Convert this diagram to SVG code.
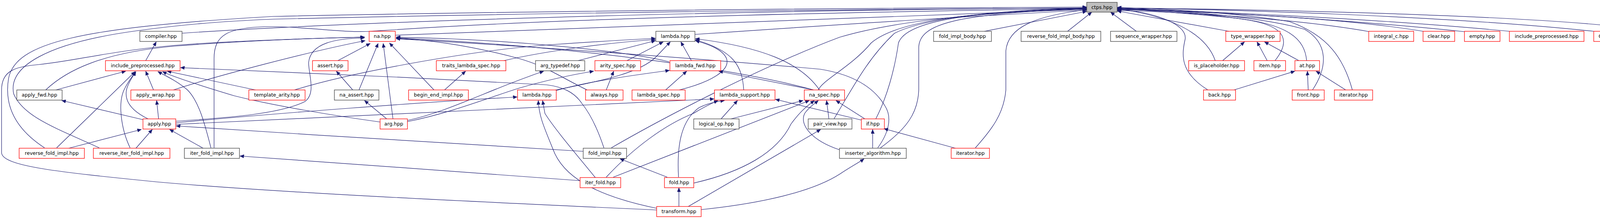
<svg xmlns="http://www.w3.org/2000/svg" width="4218" height="560" viewBox="0 0 4218 560">
<style>
.nb{fill:#fff;stroke:#404040;stroke-width:1.3}
.nr{fill:#fff;stroke:#ff0000;stroke-width:1.3}
.nr2{fill:#bfbfbf;stroke:#404040;stroke-width:1.3}
text{font-family:"DejaVu Sans","Liberation Sans",sans-serif;font-size:12.5px;fill:#000;text-anchor:middle}
.e path{fill:none;stroke:#191970;stroke-width:1.2;marker-end:url(#ah)}
</style>
<defs>
<marker id="ah" markerUnits="userSpaceOnUse" markerWidth="11" markerHeight="9" refX="10.5" refY="4.5" orient="auto">
<path d="M0,0 L10.5,4.5 L0,9 z" fill="#191970" stroke="#191970" stroke-width="0.5"/>
</marker>
</defs>
<rect width="4218" height="560" fill="#fff"/>
<g class="e" id="edges">
<path d="M466,85 C700,68 1500,30 2782,20"/>
<path d="M114,378 C40,330 10,270 22,200 C40,110 200,70 700,42 C1500,25 2400,20 2782,18"/>
<path d="M254,378 C150,330 60,300 35,240 C20,170 120,110 348,79 C450,65 550,55 700,49 C1500,30 2400,22 2782,21"/>
<path d="M548,378 L548,150 C548,90 580,68 700,68 C800,70 880,84 950,80 C1100,70 1500,40 2782,22"/>
<path d="M1012,90 C1300,78 2000,50 2782,24"/>
<path d="M1779,88 C2100,66 2500,40 2782,26"/>
<path d="M2520,80 L2782,29"/>
<path d="M2733,80 L2795,31"/>
<path d="M2909,80 L2843,31"/>
<path d="M3146,80 L2860,28"/>
<path d="M3506,81 C3300,45 3000,30 2860,27"/>
<path d="M3643,80 C3400,40 3000,27 2860,25"/>
<path d="M3749,81 C3400,45 3000,25 2860,24"/>
<path d="M3864,80 C3500,45 3000,25 2860,23"/>
<path d="M4080,80 C3700,40 3100,22 2860,22"/>
<path d="M4182,155 C4205,110 4205,80 4160,70 C3900,40 3300,25 2860,20"/>
<path d="M3111,155 C3090,95 3020,45 2860,22"/>
<path d="M3092,230 C3020,185 3025,140 3034,100 C3040,60 2950,30 2860,24"/>
<path d="M3264,155 C3300,110 3300,70 3200,52 C3100,35 2950,25 2860,22"/>
<path d="M3345,155 C3340,100 3300,60 3150,45 C3000,30 2900,25 2860,21"/>
<path d="M3360,230 C3400,170 3400,110 3340,75 C3200,35 2950,25 2860,20"/>
<path d="M3462,230 C3440,150 3400,90 3300,55 C3150,30 2950,22 2860,19"/>
<path d="M2135,304 C2180,230 2220,150 2290,85 C2380,40 2600,25 2782,20"/>
<path d="M2242,304 C2270,250 2290,180 2300,110 C2320,50 2500,30 2782,21"/>
<path d="M2254,378 C2320,330 2350,290 2352,230 L2352,120 C2355,60 2450,35 2782,22"/>
<path d="M2497,378 C2540,330 2570,290 2575,230 L2575,130 C2580,70 2650,40 2782,25"/>
<path d="M1565,378 C1700,300 1950,170 2150,95 C2300,50 2550,30 2782,23"/>
<path d="M2095,230 C2105,205 2180,170 2230,110 C2300,50 2500,30 2782,22"/>
<path d="M1681,537 C1200,515 700,492 400,465 C150,440 4,425 4,390 L4,230 C4,180 40,170 100,165 C200,155 300,125 500,112 C700,100 850,97 933,95"/>
<path d="M117,230 C170,180 260,135 446,118 C600,106 800,97 934,95"/>
<path d="M444,230 C550,195 800,130 935,104"/>
<path d="M865,155 L948,111"/>
<path d="M919,230 L968,111"/>
<path d="M1006,304 L981,111"/>
<path d="M1111,230 L997,110"/>
<path d="M450,310 C600,300 720,290 780,260 C810,240 790,190 790,160 C795,110 860,98 933,97"/>
<path d="M1713,158 C1600,130 1300,100 1014,95"/>
<path d="M2083,230 C1900,180 1500,120 1014,97"/>
<path d="M1503,230 C1440,200 1400,170 1330,150 C1200,115 1100,102 1014,98"/>
<path d="M2247,378 C2275,340 2285,300 2265,270 C2235,220 2180,190 2100,177 C1800,150 1300,115 1014,99"/>
<path d="M143,230 L322,182"/>
<path d="M145,378 L346,183"/>
<path d="M333,378 C310,330 300,260 320,225 C330,205 340,195 346,183"/>
<path d="M379,304 C340,285 315,260 325,225 C332,205 342,193 348,183"/>
<path d="M393,230 L373,182"/>
<path d="M540,378 C525,320 510,260 480,230 C450,205 420,192 404,183"/>
<path d="M654,230 L428,182"/>
<path d="M973,312 C850,295 700,270 600,245 C500,215 440,195 416,183"/>
<path d="M1546,378 C1530,330 1510,290 1490,265 C1470,235 1440,222 1400,217 C1100,200 700,182 462,173"/>
<path d="M373,155 L400,107"/>
<path d="M366,306 L158,257"/>
<path d="M406,304 L401,257"/>
<path d="M176,379 L362,331"/>
<path d="M348,379 L390,331"/>
<path d="M520,379 L434,331"/>
<path d="M1493,387 C1200,370 800,345 451,322"/>
<path d="M1485,462 C1200,440 900,420 614,399"/>
<path d="M903,230 L861,182"/>
<path d="M990,304 L933,257"/>
<path d="M1138,230 L1192,182"/>
<path d="M1043,308 C1150,285 1250,230 1392,182"/>
<path d="M1043,311 C1150,290 1250,250 1330,225 C1400,205 1470,190 1520,182"/>
<path d="M1552,230 L1571,182"/>
<path d="M450,314 C700,290 1100,260 1324,248"/>
<path d="M1524,454 C1480,400 1420,330 1395,290 L1389,257"/>
<path d="M1683,533 C1520,500 1440,450 1415,380 C1395,330 1380,300 1378,257"/>
<path d="M1422,232 C1500,210 1600,195 1714,180"/>
<path d="M1704,230 L1758,182"/>
<path d="M2083,230 L1840,182"/>
<path d="M754,230 C900,185 1200,130 1400,115 C1500,108 1600,102 1678,98"/>
<path d="M1290,155 C1400,130 1550,110 1678,101"/>
<path d="M1480,155 L1678,104"/>
<path d="M1605,155 L1698,107"/>
<path d="M1418,231 C1550,205 1640,185 1680,145 L1716,107"/>
<path d="M1770,155 L1743,107"/>
<path d="M1739,230 C1820,210 1870,180 1860,150 C1850,125 1810,112 1780,104"/>
<path d="M1904,230 C1900,170 1880,130 1780,102"/>
<path d="M2098,230 C2050,160 1950,120 1780,99"/>
<path d="M450,318 C800,300 1300,280 1828,253"/>
<path d="M1552,453 C1620,380 1700,320 1775,290 C1800,275 1820,265 1838,257"/>
<path d="M1737,453 C1733,380 1740,310 1790,275 C1810,265 1830,260 1855,257"/>
<path d="M1846,304 L1888,257"/>
<path d="M2205,307 L1985,254"/>
<path d="M1871,304 L2056,257"/>
<path d="M1570,453 L2072,257"/>
<path d="M1776,468 C1900,440 1990,390 2025,317 C2045,290 2060,275 2085,257"/>
<path d="M2149,383 C2080,360 2045,320 2060,290 C2070,275 2085,265 2095,257"/>
<path d="M2122,304 L2116,257"/>
<path d="M2214,304 L2140,257"/>
<path d="M2234,379 L2234,331"/>
<path d="M2446,379 L2263,329"/>
<path d="M1762,528 L2101,331"/>
<path d="M1795,536 C1950,520 2080,490 2150,445 C2180,425 2200,415 2212,406"/>
<path d="M1708,453 L1587,406"/>
<path d="M1738,528 L1738,480"/>
<path d="M3130,155 L3186,107"/>
<path d="M3244,155 L3218,107"/>
<path d="M3325,155 L3237,107"/>
<path d="M3159,230 L3315,182"/>
<path d="M3349,230 L3347,182"/>
<path d="M3445,230 L3369,182"/>
<path d="M4167,155 L4141,107"/>
</g>
<g id="n_ctps"><rect class="nr2" x="2782" y="6" width="78" height="25"/><text x="2821" y="22.5">ctps.hpp</text></g>
<g id="n_compiler"><rect class="nb" x="358" y="80" width="108" height="26"/><text x="412" y="96.5">compiler.hpp</text></g>
<g id="n_na"><rect class="nr" x="945" y="80" width="67" height="26"/><text x="978.5" y="96.5">na.hpp</text></g>
<g id="n_lambda_cfg"><rect class="nb" x="1679" y="80" width="100" height="26"/><text x="1729" y="96.5">lambda.hpp</text></g>
<g id="n_fold_impl_body"><rect class="nb" x="2390" y="80" width="148" height="26"/><text x="2464" y="96.5">fold_impl_body.hpp</text></g>
<g id="n_reverse_fold_impl_body"><rect class="nb" x="2614" y="80" width="204" height="26"/><text x="2716" y="96.5">reverse_fold_impl_body.hpp</text></g>
<g id="n_sequence_wrapper"><rect class="nb" x="2843" y="80" width="170" height="26"/><text x="2928" y="96.5">sequence_wrapper.hpp</text></g>
<g id="n_type_wrapper"><rect class="nr" x="3138" y="80" width="139" height="26"/><text x="3207.5" y="96.5">type_wrapper.hpp</text></g>
<g id="n_integral_c"><rect class="nr" x="3504" y="80" width="115" height="26"/><text x="3561.5" y="96.5">integral_c.hpp</text></g>
<g id="n_clear"><rect class="nr" x="3643" y="80" width="81" height="26"/><text x="3683.5" y="96.5">clear.hpp</text></g>
<g id="n_empty"><rect class="nr" x="3749" y="80" width="91" height="26"/><text x="3794.5" y="96.5">empty.hpp</text></g>
<g id="n_include_preprocessed2"><rect class="nr" x="3864" y="80" width="191" height="26"/><text x="3959.5" y="96.5">include_preprocessed.hpp</text></g>
<g id="n_O1_size"><rect class="nr" x="4080" y="80" width="101" height="26"/><text x="4130.5" y="96.5">O1_size.hpp</text></g>
<g id="n_include_preprocessed"><rect class="nr" x="270" y="155" width="191" height="26"/><text x="365.5" y="171.5">include_preprocessed.hpp</text></g>
<g id="n_assert"><rect class="nr" x="800" y="155" width="91" height="26"/><text x="845.5" y="171.5">assert.hpp</text></g>
<g id="n_traits_lambda_spec"><rect class="nr" x="1117" y="155" width="178" height="26"/><text x="1206" y="171.5">traits_lambda_spec.hpp</text></g>
<g id="n_arg_typedef"><rect class="nb" x="1371" y="155" width="126" height="26"/><text x="1434" y="171.5">arg_typedef.hpp</text></g>
<g id="n_arity_spec"><rect class="nr" x="1523" y="155" width="117" height="26"/><text x="1581.5" y="171.5">arity_spec.hpp</text></g>
<g id="n_lambda_fwd"><rect class="nr" x="1715" y="155" width="130" height="26"/><text x="1780" y="171.5">lambda_fwd.hpp</text></g>
<g id="n_is_placeholder"><rect class="nr" x="3043" y="155" width="143" height="26"/><text x="3114.5" y="171.5">is_placeholder.hpp</text></g>
<g id="n_item"><rect class="nr" x="3210" y="155" width="81" height="26"/><text x="3250.5" y="171.5">item.hpp</text></g>
<g id="n_at"><rect class="nr" x="3315" y="155" width="63" height="26"/><text x="3346.5" y="171.5">at.hpp</text></g>
<g id="n_size"><rect class="nr" x="4136" y="155" width="76" height="26"/><text x="4174" y="171.5">size.hpp</text></g>
<g id="n_apply_fwd"><rect class="nb" x="43" y="230" width="116" height="26"/><text x="101" y="246.5">apply_fwd.hpp</text></g>
<g id="n_apply_wrap"><rect class="nr" x="335" y="230" width="126" height="26"/><text x="398" y="246.5">apply_wrap.hpp</text></g>
<g id="n_template_arity"><rect class="nr" x="637" y="230" width="144" height="26"/><text x="709" y="246.5">template_arity.hpp</text></g>
<g id="n_na_assert"><rect class="nb" x="856" y="230" width="114" height="26"/><text x="913" y="246.5">na_assert.hpp</text></g>
<g id="n_begin_end_impl"><rect class="nr" x="1046" y="230" width="153" height="26"/><text x="1122.5" y="246.5">begin_end_impl.hpp</text></g>
<g id="n_lambda"><rect class="nr" x="1325" y="230" width="99" height="26"/><text x="1374.5" y="246.5">lambda.hpp</text></g>
<g id="n_always"><rect class="nr" x="1499" y="230" width="96" height="26"/><text x="1547" y="246.5">always.hpp</text></g>
<g id="n_lambda_spec"><rect class="nr" x="1618" y="230" width="136" height="26"/><text x="1686" y="246.5">lambda_spec.hpp</text></g>
<g id="n_lambda_support"><rect class="nr" x="1829" y="230" width="155" height="26"/><text x="1906.5" y="246.5">lambda_support.hpp</text></g>
<g id="n_na_spec"><rect class="nr" x="2059" y="230" width="103" height="26"/><text x="2110.5" y="246.5">na_spec.hpp</text></g>
<g id="n_back"><rect class="nr" x="3081" y="230" width="82" height="26"/><text x="3122" y="246.5">back.hpp</text></g>
<g id="n_front"><rect class="nr" x="3308" y="230" width="82" height="26"/><text x="3349" y="246.5">front.hpp</text></g>
<g id="n_iterator_v"><rect class="nr" x="3416" y="230" width="98" height="26"/><text x="3465" y="246.5">iterator.hpp</text></g>
<g id="n_apply"><rect class="nr" x="366" y="304" width="84" height="26"/><text x="408" y="320.5">apply.hpp</text></g>
<g id="n_arg"><rect class="nr" x="973" y="304" width="70" height="26"/><text x="1008" y="320.5">arg.hpp</text></g>
<g id="n_logical_op"><rect class="nb" x="1776" y="304" width="116" height="26"/><text x="1834" y="320.5">logical_op.hpp</text></g>
<g id="n_pair_view"><rect class="nb" x="2069" y="304" width="112" height="26"/><text x="2125" y="320.5">pair_view.hpp</text></g>
<g id="n_if"><rect class="nr" x="2205" y="304" width="59" height="26"/><text x="2234.5" y="320.5">if.hpp</text></g>
<g id="n_reverse_fold_impl"><rect class="nr" x="49" y="379" width="167" height="26"/><text x="132.5" y="395.5">reverse_fold_impl.hpp</text></g>
<g id="n_reverse_iter_fold_impl"><rect class="nr" x="239" y="379" width="196" height="26"/><text x="337" y="395.5">reverse_iter_fold_impl.hpp</text></g>
<g id="n_iter_fold_impl"><rect class="nb" x="472" y="379" width="141" height="26"/><text x="542.5" y="395.5">iter_fold_impl.hpp</text></g>
<g id="n_fold_impl"><rect class="nb" x="1493" y="379" width="111" height="26"/><text x="1548.5" y="395.5">fold_impl.hpp</text></g>
<g id="n_inserter_algorithm"><rect class="nb" x="2149" y="379" width="171" height="26"/><text x="2234.5" y="395.5">inserter_algorithm.hpp</text></g>
<g id="n_iterator"><rect class="nr" x="2435" y="379" width="98" height="26"/><text x="2484" y="395.5">iterator.hpp</text></g>
<g id="n_iter_fold"><rect class="nr" x="1485" y="454" width="104" height="26"/><text x="1537" y="470.5">iter_fold.hpp</text></g>
<g id="n_fold"><rect class="nr" x="1701" y="454" width="75" height="26"/><text x="1738.5" y="470.5">fold.hpp</text></g>
<g id="n_transform"><rect class="nr" x="1681" y="528" width="114" height="26"/><text x="1738" y="544.5">transform.hpp</text></g>
</svg>
